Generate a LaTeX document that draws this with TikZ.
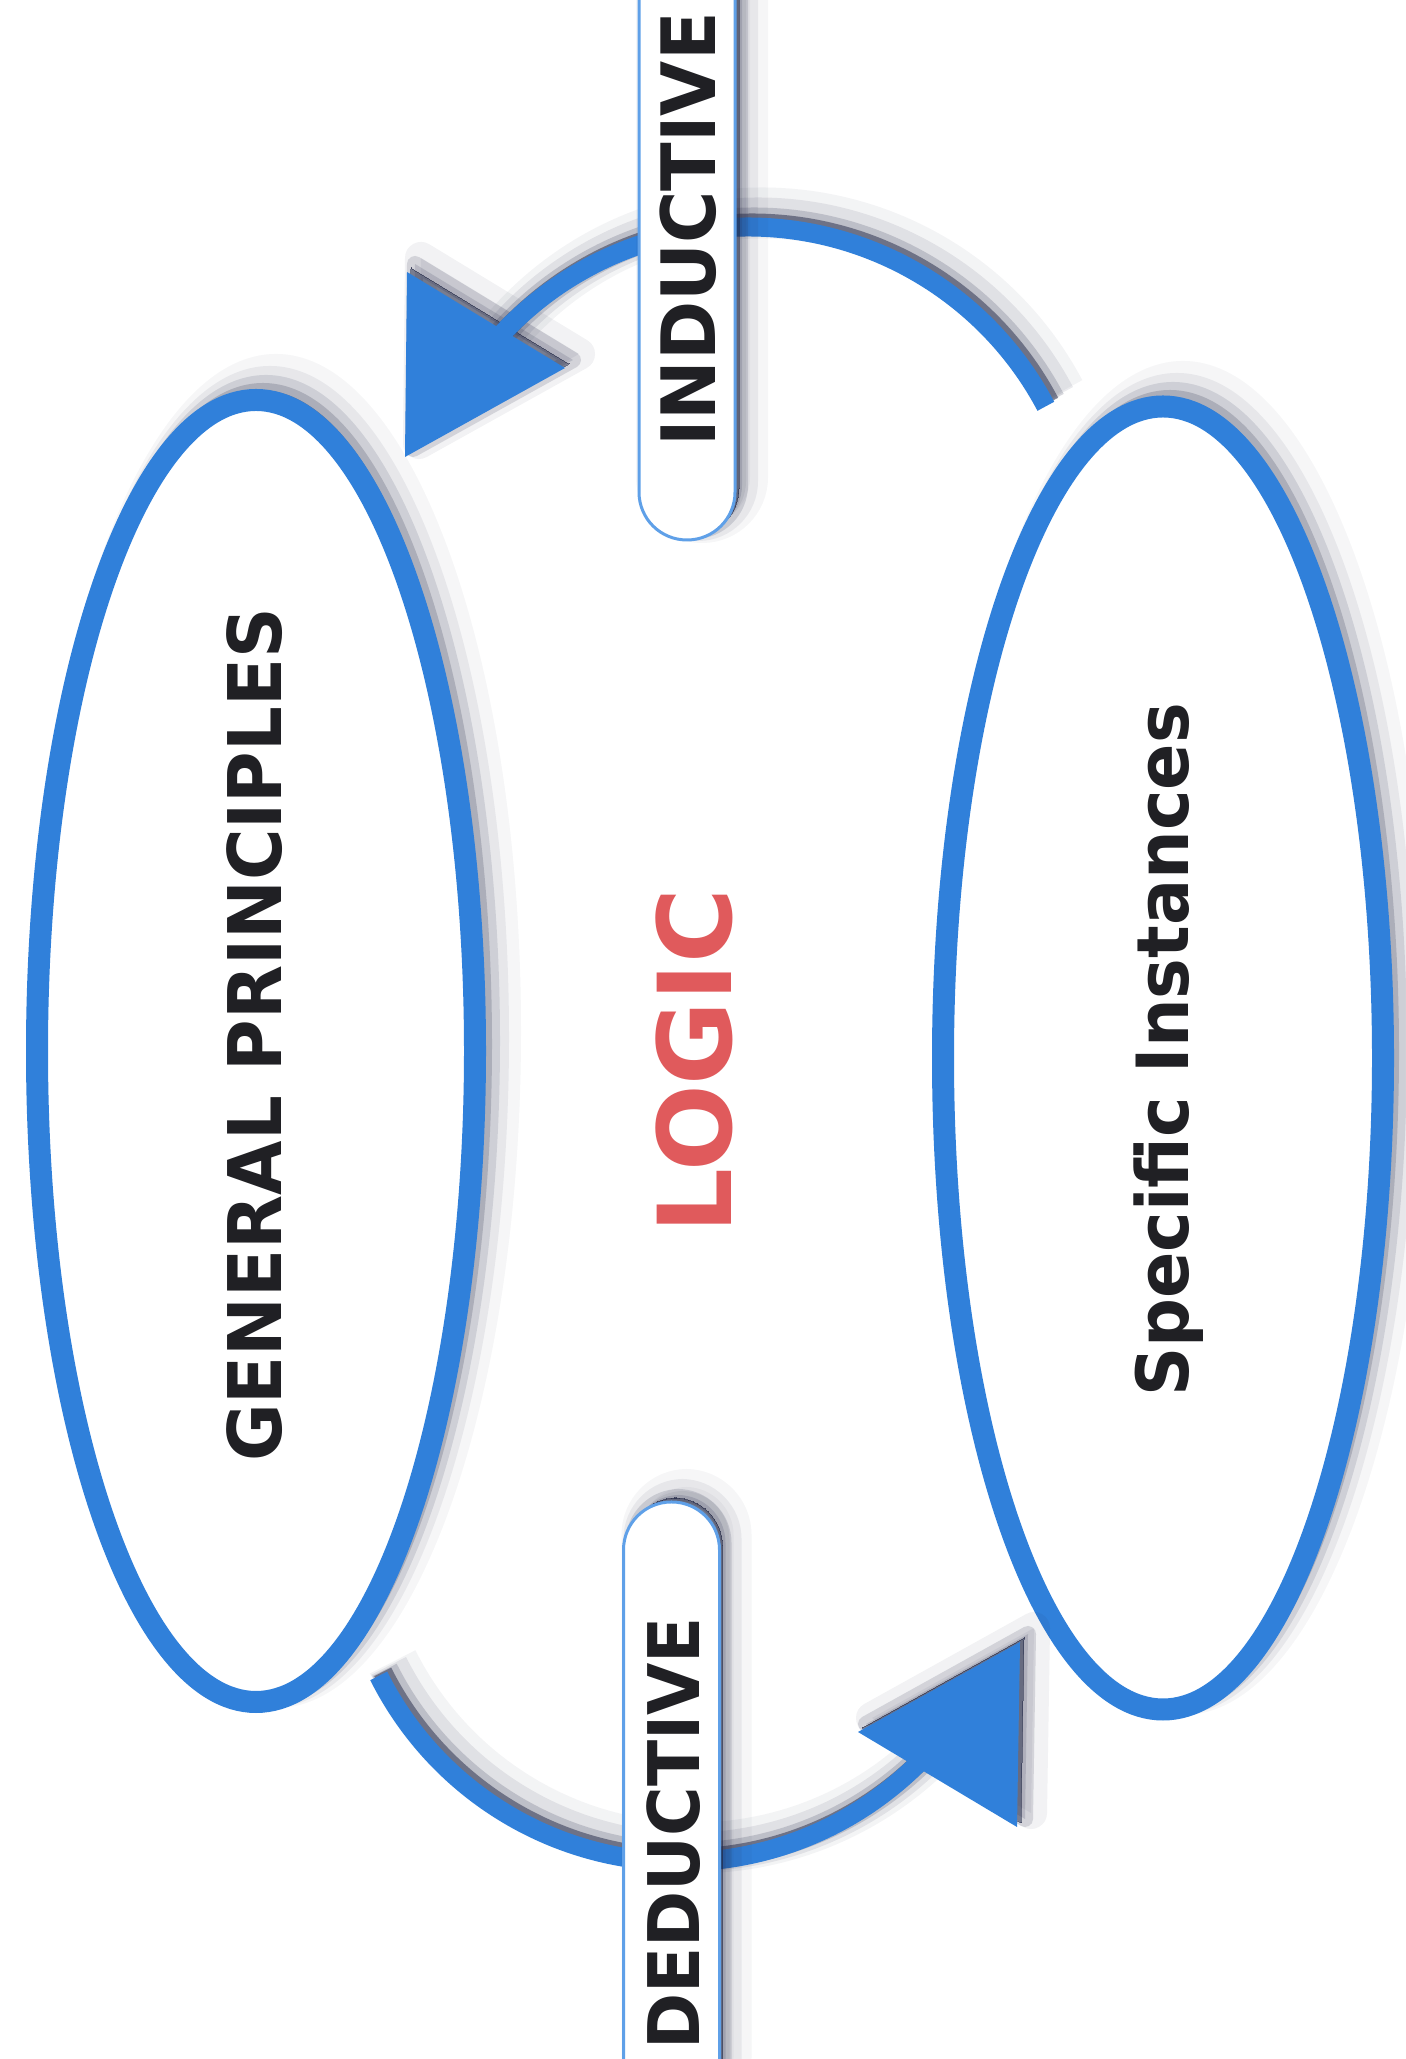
\documentclass[tikz,border=0pt]{standalone}
\usepackage{fontspec}
\usetikzlibrary{shapes.geometric,calc}
\newfontfamily\lblfont[FakeStretch=0.95]{DejaVu Sans}
\newfontfamily\logicfont{DejaVu Sans}
\definecolor{ringblue}{RGB}{48,128,218}
\definecolor{edgeblue}{RGB}{95,160,232}
\definecolor{shadowc}{RGB}{35,40,70}
\definecolor{logicred}{RGB}{224,90,92}
\definecolor{ink}{RGB}{32,32,36}
\newcommand\lblsize[1]{\lblfont\bfseries\fontsize{#1}{#1}\selectfont}
\begin{document}
\begin{tikzpicture}[x=0.5pt,y=0.5pt,
  ring/.style={ellipse, draw=ringblue, line width=11pt, fill=white, inner sep=0pt},
  flow/.style={draw=ringblue, line width=9.5pt},
  headfill/.style={fill=ringblue},
  lbox/.style={rectangle, rounded corners=23.9pt, draw=edgeblue, line width=1.5pt, fill=white, inner sep=0pt, minimum width=48pt},
  lbl/.style={text=ink, inner sep=0pt, rotate=90},
]
\fill[white] (0,0) rectangle (1405,2059);
\useasboundingbox (0,0) rectangle (1405,2059);

% ---- ellipses ----
\coordinate (gpc) at (256,1008);
\coordinate (sic) at (1163,1001);
\foreach \c in {gpc,sic}{
  \foreach \k/\d/\o in {0/4/0.45,4/7/0.2,9/10/0.12,14/14/0.07,20/20/0.04}{
    \fill[shadowc,opacity=\o] ([shift={(\d,\d)}]\c) ellipse [x radius=225+\k, y radius=657+\k];
  }
}
\node[ring, minimum width=219pt, minimum height=651pt] (gp) at (gpc) {};
\node[ring, minimum width=220pt, minimum height=651.5pt] (si) at (sic) {};

% ---- arcs and heads ----
\coordinate (tc) at (748,1495);
\coordinate (bc) at (680,534);
\coordinate (ta) at ($(tc)+(27.9:337)$);
\coordinate (ba) at ($(bc)+(206.6:337)$);
\coordinate (tA) at (407,1787);
\coordinate (tC) at (565,1691);
\coordinate (tB) at (405,1602);
\coordinate (bA) at (858,327);
\coordinate (bC) at (1017,232);
\coordinate (bB) at (1020,417);

\foreach \w/\d/\o in {9.5/4/0.5,13.5/6/0.18,19.5/10/0.09,25.5/14/0.05}{
  \draw[shadowc,opacity=\o,line width=\w pt] ([shift={(\d,\d)}]ta) arc[start angle=27.9,end angle=139,radius=337];
  \draw[shadowc,opacity=\o,line width=\w pt] ([shift={(\d,\d)}]ba) arc[start angle=206.6,end angle=316,radius=337];
}
\foreach \w/\d/\o in {0/4/0.5,8/8/0.15,16/14/0.06}{
  \filldraw[shadowc,opacity=\o,line width=\w pt,line join=round] ([shift={(\d,\d)}]tA) -- ([shift={(\d,\d)}]tB) -- ([shift={(\d,\d)}]tC) -- cycle;
  \filldraw[shadowc,opacity=\o,line width=\w pt,line join=round] ([shift={(\d,\d)}]bA) -- ([shift={(\d,\d)}]bB) -- ([shift={(\d,\d)}]bC) -- cycle;
}
\draw[flow] (ta) arc[start angle=27.9,end angle=139,radius=337];
\draw[flow] (ba) arc[start angle=206.6,end angle=316,radius=337];
\fill[headfill] (tA) -- (tB) -- (tC) -- cycle;
\fill[headfill] (bA) -- (bB) -- (bC) -- cycle;

% ---- label boxes ----
\coordinate (ibsw) at (639,1519);
\coordinate (ibne) at (735,2119);
\coordinate (dbsw) at (624.5,-61);
\coordinate (dbne) at (718.5,557);
\foreach \w/\d/\o in {0/4/0.5,6/7/0.15,12/11/0.07,18/15/0.04}{
  \filldraw[shadowc,opacity=\o,line width=\w pt,rounded corners=23.9pt] ([shift={(\d,\d)}]ibsw) rectangle ([shift={(\d,\d)}]ibne);
  \filldraw[shadowc,opacity=\o,line width=\w pt,rounded corners=23.9pt] ([shift={(\d,\d)}]dbsw) rectangle ([shift={(\d,\d)}]dbne);
}
\node[lbox, minimum height=300pt] (ib) at (687,1819) {};
\node[lbox, minimum height=309pt] (db) at (671.5,248) {};

% ---- texts ----
\node[lbl, font=\lblsize{37pt}] (gt) at (255,1024) {GENERAL PRINCIPLES};
\node[lbl, font=\lblsize{36pt}, anchor=base] (st) at (1188,1009) {Specific Instances};
\node[lbl, font=\lblsize{37.5pt}] (it) at (688,1829.5) {INDUCTIVE};
\node[lbl, font=\lblsize{35.6pt}] (dt) at (673.5,225.5) {DEDUCTIVE};
\node[rotate=90, inner sep=0pt, text=logicred, font=\logicfont\bfseries\fontsize{51pt}{55pt}\selectfont] (lg) at (694.5,998) {LOGIC};
\end{tikzpicture}
\end{document}
